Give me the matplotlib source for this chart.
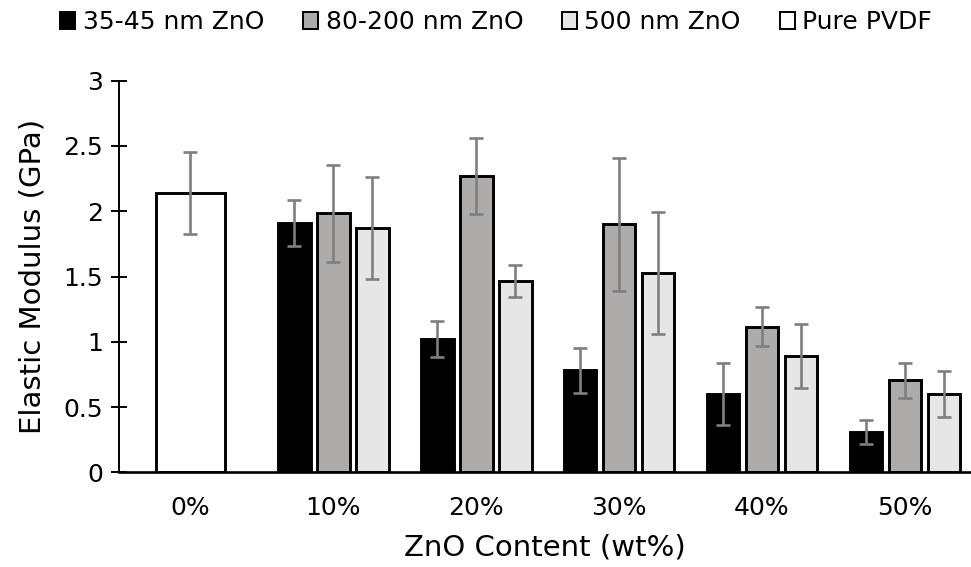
import numpy as np
import matplotlib
matplotlib.use('Agg')
import matplotlib.pyplot as plt
from matplotlib.patches import Patch

plt.rcParams['font.family'] = ['DejaVu Sans']

# --- data ---
categories = ['0%', '10%', '20%', '30%', '40%', '50%']
series = ['35-45 nm ZnO', '80-200 nm ZnO', '500 nm ZnO']
colors = ['#000000', '#AEABAB', '#E7E6E6']

small = [1.91, 1.02, 0.78, 0.60, 0.31]
small_err = [0.175, 0.14, 0.17, 0.235, 0.092]
medium = [1.985, 2.27, 1.90, 1.115, 0.705]
medium_err = [0.372, 0.293, 0.51, 0.15, 0.135]
large = [1.87, 1.465, 1.53, 0.89, 0.60]
large_err = [0.389, 0.125, 0.467, 0.245, 0.177]

pure_val = [2.14]
pure_err = [0.313]

# --- plot ---
W, H = 971, 567
fig = plt.figure(figsize=(W / 100, H / 100), dpi=100)
cat_px = 142.9
ax = fig.add_axes([119 / W, (H - 472.3) / H, (W - 119) / W, 391.6 / H])

err_style = dict(ecolor='#7F7F7F', elinewidth=1.9, capsize=5, capthick=1.9)

x = np.arange(1, len(categories))
w = 0.228
step = 0.273
for i, (vals, errs) in enumerate([(small, small_err), (medium, medium_err), (large, large_err)]):
    ax.bar(x + (i - 1) * step, vals, w, yerr=errs, color=colors[i],
           edgecolor='black', linewidth=2.1, error_kw=err_style, zorder=2)

ax.bar([0], pure_val, 0.486, yerr=pure_err, color='white', edgecolor='black',
       linewidth=2.1, error_kw=err_style, zorder=2)

ax.set_xlim(-0.5, -0.5 + (W - 119) / cat_px)
ax.set_ylim(0, 3)
ax.set_xticks(range(len(categories)))
ax.set_xticklabels(categories)
ax.set_yticks(np.arange(0, 3.01, 0.5))
ax.set_yticklabels(['0', '0.5', '1', '1.5', '2', '2.5', '3'])
ax.tick_params(axis='x', length=0, labelsize=18, pad=17)
ax.tick_params(axis='y', direction='inout', length=11, width=1.4, labelsize=18, pad=6)
for s in ['top', 'right']:
    ax.spines[s].set_visible(False)
ax.spines['left'].set_linewidth(1.4)
ax.spines['bottom'].set_linewidth(1.9)
ax.spines['bottom'].set_zorder(3)

ax.set_xlabel('ZnO Content (wt%)', fontsize=21, labelpad=10)
ax.set_ylabel('Elastic Modulus (GPa)', fontsize=21, labelpad=12)

handles = [Patch(facecolor=c, edgecolor='black', linewidth=1.4) for c in colors]
handles.append(Patch(facecolor='white', edgecolor='black', linewidth=1.4))
fig.legend(handles, series + ['Pure PVDF'], loc='center',
           bbox_to_anchor=(0.511, 1 - 22 / H), ncol=4, frameon=False, fontsize=18,
           handlelength=0.6, handleheight=0.7, handletextpad=0.3,
           columnspacing=1.55, borderpad=0)

fig.savefig('out.png', dpi=100)
